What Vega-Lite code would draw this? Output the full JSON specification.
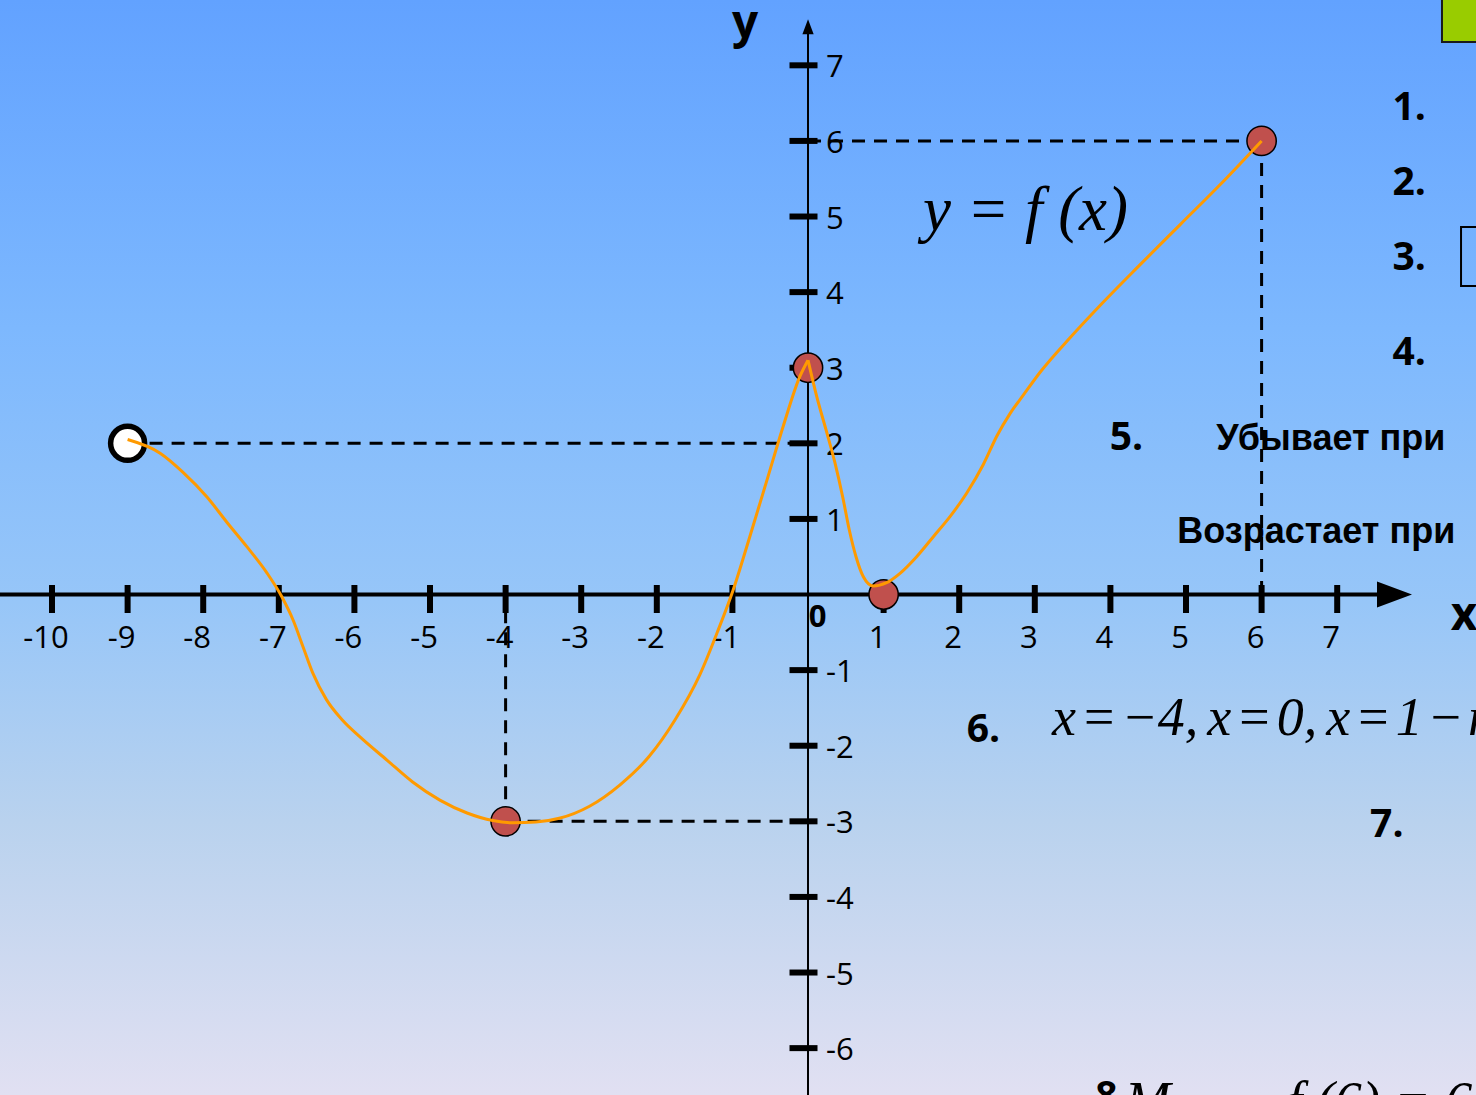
{
  "$schema": "https://vega.github.io/schema/vega-lite/v6.json",
  "width": 1476,
  "height": 1095,
  "autosize": {"type": "none"},
  "padding": 0,
  "background": "#E1E0F2",
  "config": {"view": {"stroke": null}},
  "datasets": {
    "bg": [{"x": -10.688, "x2": 8.836, "y": -6.62, "y2": 7.864}],
    "dashes": [
      {"x": -9, "y": 2, "x2": 0, "y2": 2},
      {"x": 0, "y": 6, "x2": 6, "y2": 6},
      {"x": 6, "y": 6, "x2": 6, "y2": 0},
      {"x": -4, "y": -3, "x2": -4, "y2": 0},
      {"x": -4, "y": -3, "x2": 0, "y2": -3}
    ],
    "xaxis": [{"x": -10.688, "x2": 7.56, "y": 0}],
    "yaxis": [{"x": 0, "y": -6.62, "y2": 7.45}],
    "xticks": [
      {"x": -10, "y": 0, "t": "-10"}, {"x": -9, "y": 0, "t": "-9"}, {"x": -8, "y": 0, "t": "-8"},
      {"x": -7, "y": 0, "t": "-7"}, {"x": -6, "y": 0, "t": "-6"}, {"x": -5, "y": 0, "t": "-5"},
      {"x": -4, "y": 0, "t": "-4"}, {"x": -3, "y": 0, "t": "-3"}, {"x": -2, "y": 0, "t": "-2"},
      {"x": -1, "y": 0, "t": "-1"}, {"x": 1, "y": 0, "t": "1"}, {"x": 2, "y": 0, "t": "2"},
      {"x": 3, "y": 0, "t": "3"}, {"x": 4, "y": 0, "t": "4"}, {"x": 5, "y": 0, "t": "5"},
      {"x": 6, "y": 0, "t": "6"}, {"x": 7, "y": 0, "t": "7"}
    ],
    "yticks": [
      {"x": 0, "y": 7, "t": "7"}, {"x": 0, "y": 6, "t": "6"}, {"x": 0, "y": 5, "t": "5"},
      {"x": 0, "y": 4, "t": "4"}, {"x": 0, "y": 3, "t": "3"}, {"x": 0, "y": 2, "t": "2"},
      {"x": 0, "y": 1, "t": "1"}, {"x": 0, "y": -1, "t": "-1"}, {"x": 0, "y": -2, "t": "-2"},
      {"x": 0, "y": -3, "t": "-3"}, {"x": 0, "y": -4, "t": "-4"}, {"x": 0, "y": -5, "t": "-5"},
      {"x": 0, "y": -6, "t": "-6"}
    ],
    "origin": [{"x": 0, "y": 0, "t": "0"}],
    "xarrow": [{"x": 7.758, "y": 0}],
    "yarrow": [{"x": 0, "y": 7.51}],
    "titles": [{"x": -0.833, "y": 7.36, "t": "y"}, {"x": 8.677, "y": -0.47, "t": "x"}],
    "redpts": [{"x": -4, "y": -3}, {"x": 0, "y": 3}, {"x": 1, "y": 0}, {"x": 6, "y": 6}],
    "openpt": [{"x": -9, "y": 2}],
    "curve": [
      {"seg": "a", "i": 0, "x": -9, "y": 2.05},
      {"seg": "a", "i": 1, "x": -8.57, "y": 1.87},
      {"seg": "a", "i": 2, "x": -8.27, "y": 1.62},
      {"seg": "a", "i": 3, "x": -7.95, "y": 1.29},
      {"seg": "a", "i": 4, "x": -7.69, "y": 0.96},
      {"seg": "a", "i": 5, "x": -7.42, "y": 0.63},
      {"seg": "a", "i": 6, "x": -7.16, "y": 0.29},
      {"seg": "a", "i": 7, "x": -6.96, "y": -0.03},
      {"seg": "a", "i": 8, "x": -6.81, "y": -0.34},
      {"seg": "a", "i": 9, "x": -6.68, "y": -0.69},
      {"seg": "a", "i": 10, "x": -6.55, "y": -1.04},
      {"seg": "a", "i": 11, "x": -6.37, "y": -1.39},
      {"seg": "a", "i": 12, "x": -6.16, "y": -1.66},
      {"seg": "a", "i": 13, "x": -5.93, "y": -1.88},
      {"seg": "a", "i": 14, "x": -5.57, "y": -2.19},
      {"seg": "a", "i": 15, "x": -5.23, "y": -2.48},
      {"seg": "a", "i": 16, "x": -4.87, "y": -2.72},
      {"seg": "a", "i": 17, "x": -4.51, "y": -2.89},
      {"seg": "a", "i": 18, "x": -4.17, "y": -2.99},
      {"seg": "a", "i": 19, "x": -3.9, "y": -3.02},
      {"seg": "a", "i": 20, "x": -3.6, "y": -3.01},
      {"seg": "a", "i": 21, "x": -3.29, "y": -2.96},
      {"seg": "a", "i": 22, "x": -2.89, "y": -2.8},
      {"seg": "a", "i": 23, "x": -2.49, "y": -2.52},
      {"seg": "a", "i": 24, "x": -2.1, "y": -2.14},
      {"seg": "a", "i": 25, "x": -1.76, "y": -1.66},
      {"seg": "a", "i": 26, "x": -1.43, "y": -1.06},
      {"seg": "a", "i": 27, "x": -1.2, "y": -0.5},
      {"seg": "a", "i": 28, "x": -0.99, "y": 0.06},
      {"seg": "a", "i": 29, "x": -0.77, "y": 0.765},
      {"seg": "a", "i": 30, "x": -0.55, "y": 1.49},
      {"seg": "a", "i": 31, "x": -0.33, "y": 2.22},
      {"seg": "a", "i": 32, "x": -0.11, "y": 2.88},
      {"seg": "a", "i": 33, "x": 0, "y": 3.1},
      {"seg": "b", "i": 0, "x": 0, "y": 3.1},
      {"seg": "b", "i": 1, "x": 0.115, "y": 2.62},
      {"seg": "b", "i": 2, "x": 0.238, "y": 2.18},
      {"seg": "b", "i": 3, "x": 0.357, "y": 1.74},
      {"seg": "b", "i": 4, "x": 0.459, "y": 1.29},
      {"seg": "b", "i": 5, "x": 0.547, "y": 0.85},
      {"seg": "b", "i": 6, "x": 0.635, "y": 0.5},
      {"seg": "b", "i": 7, "x": 0.732, "y": 0.235},
      {"seg": "b", "i": 8, "x": 0.864, "y": 0.112},
      {"seg": "b", "i": 9, "x": 1.04, "y": 0.156},
      {"seg": "b", "i": 10, "x": 1.217, "y": 0.28},
      {"seg": "b", "i": 11, "x": 1.437, "y": 0.5},
      {"seg": "b", "i": 12, "x": 1.658, "y": 0.765},
      {"seg": "b", "i": 13, "x": 1.878, "y": 1.03},
      {"seg": "b", "i": 14, "x": 2.098, "y": 1.34},
      {"seg": "b", "i": 15, "x": 2.319, "y": 1.72},
      {"seg": "b", "i": 16, "x": 2.5, "y": 2.1},
      {"seg": "b", "i": 17, "x": 2.67, "y": 2.39},
      {"seg": "b", "i": 18, "x": 2.85, "y": 2.64},
      {"seg": "b", "i": 19, "x": 3.07, "y": 2.94},
      {"seg": "b", "i": 20, "x": 3.46, "y": 3.39},
      {"seg": "b", "i": 21, "x": 3.86, "y": 3.82},
      {"seg": "b", "i": 22, "x": 4.39, "y": 4.36},
      {"seg": "b", "i": 23, "x": 4.92, "y": 4.89},
      {"seg": "b", "i": 24, "x": 5.45, "y": 5.42},
      {"seg": "b", "i": 25, "x": 6, "y": 6}
    ],
    "fx": [{"x": 1.52, "y": 4.82, "t": "y = f (x)"}],
    "nums": [
      {"x": 7.73, "y": 6.276, "t": "1."},
      {"x": 7.73, "y": 5.283, "t": "2."},
      {"x": 7.73, "y": 4.292, "t": "3."},
      {"x": 7.73, "y": 3.036, "t": "4."},
      {"x": 3.99, "y": 1.911, "t": "5."},
      {"x": 2.1, "y": -1.951, "t": "6."},
      {"x": 7.435, "y": -3.208, "t": "7."},
      {"x": 3.8, "y": -6.8, "t": "8"}
    ],
    "ru": [
      {"x": 5.4, "y": 1.911, "t": "Убывает при"},
      {"x": 4.884, "y": 0.681, "t": "Возрастает при"}
    ],
    "formula": [{"x": 3.227, "y": -1.858, "t": "x\u200A=\u200A−4,\u2006x\u200A=\u200A0,\u2006x\u200A=\u200A1\u200A−\u200Am"}],
    "bottom": [
      {"x": 4.19, "y": -6.94, "t": "M"},
      {"x": 6.336, "y": -6.94, "t": "f (6) = 6"}
    ],
    "green": [{"x": 8.386, "x2": 9.3, "y": 7.308, "y2": 8.3}],
    "box": [{"x": 8.638, "x2": 9.3, "y": 4.081, "y2": 4.861}]
  },
  "encoding": {
    "x": {"field": "x", "type": "quantitative", "scale": {"domain": [-10.688, 8.836], "nice": false, "zero": false}, "axis": null},
    "y": {"field": "y", "type": "quantitative", "scale": {"domain": [-6.62, 7.864], "nice": false, "zero": false}, "axis": null}
  },
  "layer": [
    {
      "data": {"name": "bg"},
      "mark": {"type": "rect", "strokeWidth": 0, "fill": {"gradient": "linear", "x1": 0, "y1": 0, "x2": 0, "y2": 1, "stops": [
        {"offset": 0, "color": "#62A2FF"},
        {"offset": 0.3, "color": "#7DB8FE"},
        {"offset": 0.55, "color": "#97C6F8"},
        {"offset": 0.75, "color": "#B9D2EE"},
        {"offset": 1, "color": "#E1E0F2"}
      ]}},
      "encoding": {"x2": {"field": "x2"}, "y2": {"field": "y2"}}
    },
    {
      "data": {"name": "green"},
      "mark": {"type": "rect", "fill": "#99CC00", "stroke": "#1A1A1A", "strokeWidth": 2},
      "encoding": {"x2": {"field": "x2"}, "y2": {"field": "y2"}}
    },
    {
      "data": {"name": "box"},
      "mark": {"type": "rect", "fill": null, "fillOpacity": 0, "stroke": "#000000", "strokeWidth": 2},
      "encoding": {"x2": {"field": "x2"}, "y2": {"field": "y2"}}
    },
    {
      "data": {"name": "xticks"},
      "mark": {"type": "text", "font": "Open Sans", "fontSize": 31, "color": "#000000", "align": "center", "baseline": "alphabetic", "dx": -6, "dy": 53},
      "encoding": {"text": {"field": "t"}}
    },
    {
      "data": {"name": "origin"},
      "mark": {"type": "text", "font": "Open Sans", "fontSize": 31, "fontWeight": "bold", "color": "#000000", "align": "center", "baseline": "alphabetic", "dx": 9.5, "dy": 32.5},
      "encoding": {"text": {"field": "t"}}
    },
    {
      "data": {"name": "yticks"},
      "mark": {"type": "text", "font": "Open Sans", "fontSize": 31, "color": "#000000", "align": "left", "baseline": "middle", "dx": 18, "dy": 3},
      "encoding": {"text": {"field": "t"}}
    },
    {
      "data": {"name": "ru"},
      "mark": {"type": "text", "font": "Liberation Sans", "fontSize": 36, "fontWeight": "bold", "color": "#000000", "align": "left", "baseline": "alphabetic"},
      "encoding": {"text": {"field": "t"}}
    },
    {
      "data": {"name": "dashes"},
      "mark": {"type": "rule", "color": "#000000", "strokeWidth": 3, "strokeDash": [13, 9]},
      "encoding": {"x2": {"field": "x2"}, "y2": {"field": "y2"}}
    },
    {
      "data": {"name": "xaxis"},
      "mark": {"type": "rule", "color": "#000000", "strokeWidth": 4},
      "encoding": {"x2": {"field": "x2"}}
    },
    {
      "data": {"name": "yaxis"},
      "mark": {"type": "rule", "color": "#000000", "strokeWidth": 2},
      "encoding": {"y2": {"field": "y2"}}
    },
    {
      "data": {"name": "xticks"},
      "mark": {"type": "tick", "orient": "vertical", "size": 28, "thickness": 6, "color": "#000000", "opacity": 1, "yOffset": 4.5}
    },
    {
      "data": {"name": "yticks"},
      "mark": {"type": "tick", "orient": "horizontal", "size": 28, "thickness": 6, "color": "#000000", "opacity": 1, "xOffset": -4.5}
    },
    {
      "data": {"name": "xarrow"},
      "mark": {"type": "point", "shape": "M-1,-0.74L1,0L-1,0.74Z", "size": 1225, "filled": true, "color": "#000000", "opacity": 1, "strokeWidth": 0}
    },
    {
      "data": {"name": "yarrow"},
      "mark": {"type": "point", "shape": "M-0.75,1L0,-1L0.75,1Z", "size": 225, "filled": true, "color": "#000000", "opacity": 1, "strokeWidth": 0}
    },
    {
      "data": {"name": "titles"},
      "mark": {"type": "text", "font": "Open Sans", "fontSize": 46, "fontWeight": "bold", "color": "#000000", "align": "center", "baseline": "alphabetic"},
      "encoding": {"text": {"field": "t"}}
    },
    {
      "data": {"name": "redpts"},
      "mark": {"type": "point", "shape": "circle", "size": 860, "filled": true, "fill": "#C0504D", "stroke": "#000000", "strokeWidth": 1.5, "opacity": 1}
    },
    {
      "data": {"name": "openpt"},
      "mark": {"type": "point", "shape": "circle", "size": 1156, "filled": true, "fill": "#FFFFFF", "stroke": "#000000", "strokeWidth": 5.5, "opacity": 1}
    },
    {
      "data": {"name": "curve"},
      "mark": {"type": "line", "color": "#FF9A00", "strokeWidth": 3, "interpolate": "monotone"},
      "encoding": {"detail": {"field": "seg"}, "order": {"field": "i", "type": "quantitative"}}
    },
    {
      "data": {"name": "fx"},
      "mark": {"type": "text", "font": "Liberation Serif", "fontSize": 63, "fontStyle": "italic", "color": "#000000", "align": "left", "baseline": "alphabetic"},
      "encoding": {"text": {"field": "t"}}
    },
    {
      "data": {"name": "nums"},
      "mark": {"type": "text", "font": "Open Sans", "fontSize": 39, "fontWeight": "bold", "color": "#000000", "align": "left", "baseline": "alphabetic"},
      "encoding": {"text": {"field": "t"}}
    },
    {
      "data": {"name": "formula"},
      "mark": {"type": "text", "font": "Liberation Serif", "fontSize": 54, "fontStyle": "italic", "color": "#000000", "align": "left", "baseline": "alphabetic"},
      "encoding": {"text": {"field": "t"}}
    },
    {
      "data": {"name": "bottom"},
      "mark": {"type": "text", "font": "Liberation Serif", "fontSize": 55, "fontStyle": "italic", "color": "#000000", "align": "left", "baseline": "alphabetic"},
      "encoding": {"text": {"field": "t"}}
    }
  ]
}
